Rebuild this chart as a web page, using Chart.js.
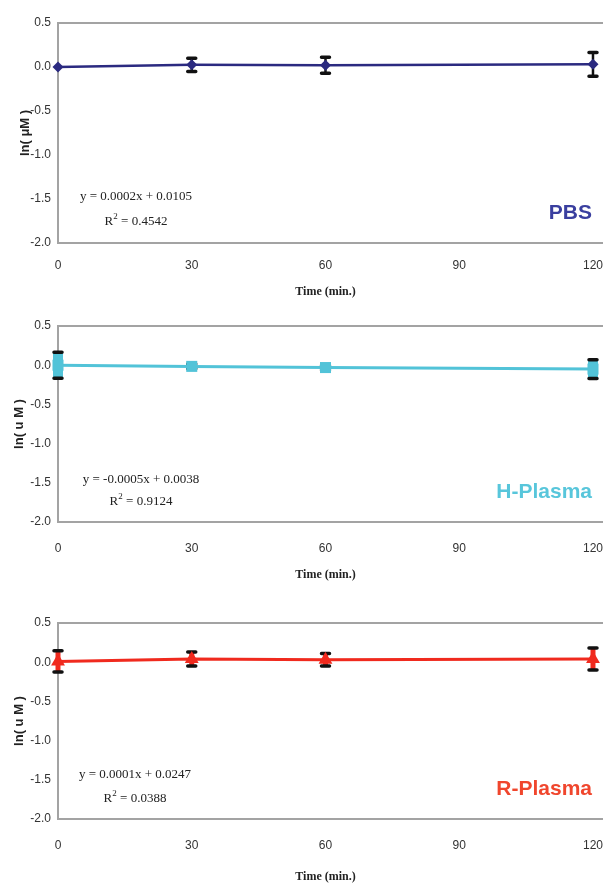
<!DOCTYPE html>
<html>
<head>
<meta charset="utf-8">
<script src="https://cdn.jsdelivr.net/npm/chart.js@4"></script>
<style>
  body { margin: 0; background: #fff; }
  .panel { position: absolute; left: 0; width: 603px; }
</style>
</head>
<body>
<div class="panel" style="top:0px"><canvas id="pbsChart" width="603" height="300"></canvas></div>
<div class="panel" style="top:300px"><canvas id="hPlasmaChart" width="603" height="290"></canvas></div>
<div class="panel" style="top:590px"><canvas id="rPlasmaChart" width="603" height="294"></canvas></div>
<script>
// data
const timePoints = [0, 30, 60, 120];
const xTicks = [0, 30, 60, 90, 120];
const yTicks = [-2.0, -1.5, -1.0, -0.5, 0.0, 0.5];

const pbsValues = [0.0, 0.025, 0.02, 0.03];
const pbsErrors = [0.0, 0.075, 0.09, 0.135];
const hPlasmaValues = [0.0, -0.015, -0.03, -0.05];
const hPlasmaErrors = [0.165, 0.03, 0.03, 0.12];
const rPlasmaValues = [0.01, 0.04, 0.03, 0.04];
const rPlasmaErrors = [0.135, 0.09, 0.08, 0.14];

const pbsFit = ['y = 0.0002x + 0.0105', ' = 0.4542'];
const hPlasmaFit = ['y = -0.0005x + 0.0038', ' = 0.9124'];
const rPlasmaFit = ['y = 0.0001x + 0.0247', ' = 0.0388'];

const axisGray = '#a3a3a3';

// the frame lines run on past the last tick to the edge of the picture
const frameExtendPlugin = {
    id: 'frameExtend',
    beforeDatasetsDraw(chart) {
        const { top, bottom, right } = chart.chartArea;
        const ctx = chart.ctx;
        ctx.save();
        ctx.strokeStyle = axisGray;
        ctx.lineWidth = 2;
        ctx.beginPath();
        ctx.moveTo(right - 1, top); ctx.lineTo(chart.width, top);
        ctx.moveTo(right - 1, bottom); ctx.lineTo(chart.width, bottom);
        ctx.stroke();
        ctx.restore();
    }
};

// error bars drawn through the chart's own scales
const errorBarPlugin = {
    id: 'errorBars',
    beforeDatasetsDraw(chart) {
        const cfg = chart.options.plugins.errorBars;
        const xs = chart.scales.x, ys = chart.scales.y;
        const ctx = chart.ctx;
        const pts = chart.data.datasets[0].data;
        ctx.save();
        cfg.errors.forEach((err, i) => {
            if (!err) return;
            const x = xs.getPixelForValue(pts[i].x);
            const yTop = ys.getPixelForValue(pts[i].y + err);
            const yBot = ys.getPixelForValue(pts[i].y - err);
            ctx.strokeStyle = cfg.stemColor;
            ctx.lineWidth = cfg.stemWidth;
            ctx.lineCap = 'butt';
            ctx.beginPath();
            ctx.moveTo(x, yTop);
            ctx.lineTo(x, yBot);
            ctx.stroke();
            ctx.strokeStyle = '#111';
            ctx.lineWidth = 3.5;
            ctx.lineCap = 'round';
            ctx.beginPath();
            ctx.moveTo(x - 4, yTop); ctx.lineTo(x + 4, yTop);
            ctx.moveTo(x - 4, yBot); ctx.lineTo(x + 4, yBot);
            ctx.stroke();
        });
        ctx.restore();
    }
};

// equation + sample name text
const notesPlugin = {
    id: 'notes',
    afterDraw(chart) {
        const n = chart.options.plugins.notes;
        const ctx = chart.ctx;
        const b = chart.chartArea.bottom;
        ctx.save();
        ctx.fillStyle = '#222';
        ctx.textBaseline = 'middle';
        ctx.font = '13px "Liberation Serif"';
        ctx.textAlign = 'center';
        ctx.fillText(n.fit[0], n.eqX, b - n.eqDy1);
        // R² line
        const w1 = ctx.measureText('R').width;
        const w3 = ctx.measureText(n.fit[1]).width;
        ctx.font = '9px "Liberation Serif"';
        const w2 = ctx.measureText('2').width;
        const x = n.eqX - (w1 + w2 + w3) / 2;
        const y = b - n.eqDy2;
        ctx.textAlign = 'left';
        ctx.font = '13px "Liberation Serif"';
        ctx.fillText('R', x, y);
        ctx.font = '9px "Liberation Serif"';
        ctx.fillText('2', x + w1, y - 5);
        ctx.font = '13px "Liberation Serif"';
        ctx.fillText(n.fit[1], x + w1 + w2, y);
        // sample label
        ctx.font = 'bold 21px "Liberation Sans"';
        ctx.textAlign = 'right';
        ctx.fillStyle = n.labelColor;
        ctx.fillText(n.label, 592, b - 30);
        ctx.restore();
    }
};

function makePanel(id, p) {
    const ctx = document.getElementById(id).getContext('2d');
    return new Chart(ctx, {
        type: 'line',
        data: {
            datasets: [{
                data: timePoints.map((t, i) => ({ x: t, y: p.values[i] })),
                borderColor: p.color,
                backgroundColor: p.color,
                borderWidth: p.lineWidth,
                pointStyle: p.marker,
                pointRadius: p.markerSize,
                pointBorderWidth: 0,
                pointBackgroundColor: p.color,
                tension: 0,
                fill: false,
                clip: false
            }]
        },
        options: {
            responsive: false,
            devicePixelRatio: 1,
            animation: false,
            layout: { padding: { top: p.padTop, left: 0, right: 0, bottom: 0 } },
            plugins: {
                legend: { display: false },
                tooltip: { enabled: false },
                errorBars: { errors: p.errors, stemColor: p.stemColor, stemWidth: p.stemWidth },
                notes: { fit: p.fit, eqX: p.eqX, eqDy1: p.eqDy1, eqDy2: p.eqDy2, label: p.label, labelColor: p.labelColor }
            },
            scales: {
                x: {
                    type: 'linear',
                    min: 0,
                    max: 120,
                    afterBuildTicks: s => { s.ticks = xTicks.map(v => ({ value: v })); },
                    afterFit: s => { s.height = p.xAxisH; },
                    grid: {
                        display: true,
                        color: 'rgba(0,0,0,0)',
                        drawTicks: true,
                        tickLength: p.tickPad,
                        tickColor: 'rgba(0,0,0,0)'
                    },
                    border: { display: true, color: axisGray, width: 2 },
                    ticks: { padding: 0, color: '#333', font: { family: 'Liberation Sans', size: 12 }, maxRotation: 0 },
                    title: {
                        display: true,
                        text: 'Time (min.)',
                        color: '#222',
                        font: { family: 'Liberation Serif', size: 12, weight: 'bold' },
                        padding: { top: 0, bottom: p.xTitlePad }
                    }
                },
                y: {
                    min: -2,
                    max: 0.5,
                    afterBuildTicks: s => { s.ticks = yTicks.map(v => ({ value: v })); },
                    afterFit: s => { s.width = 58; },
                    grid: {
                        drawTicks: false,
                        lineWidth: 2,
                        color: c => (c.tick && c.tick.value === 0.5) ? axisGray : 'rgba(0,0,0,0)'
                    },
                    border: { display: true, color: axisGray, width: 2 },
                    ticks: {
                        padding: 7,
                        color: '#333',
                        font: { family: 'Liberation Sans', size: 12 },
                        callback: v => v.toFixed(1)
                    },
                    title: {
                        display: true,
                        text: p.yTitle,
                        color: '#222',
                        font: { family: 'Liberation Sans', size: 13, weight: 'bold' },
                        padding: { top: p.yTitlePad, bottom: 0 }
                    }
                }
            }
        },
        plugins: [frameExtendPlugin, errorBarPlugin, notesPlugin]
    });
}

makePanel('pbsChart', {
    values: pbsValues, errors: pbsErrors, fit: pbsFit,
    color: '#2b2a80', lineWidth: 2.5, marker: 'rectRot', markerSize: 5.5,
    stemColor: '#111', stemWidth: 2.5,
    label: 'PBS', labelColor: '#3a3f9f',
    padTop: 23, xAxisH: 57, tickPad: 15, xTitlePad: 1,
    yTitle: 'ln( μM )', yTitlePad: 18,
    eqX: 136, eqDy1: 46, eqDy2: 21
});

makePanel('hPlasmaChart', {
    values: hPlasmaValues, errors: hPlasmaErrors, fit: hPlasmaFit,
    color: '#52c3d8', lineWidth: 3, marker: 'rect', markerSize: 7.8,
    stemColor: '#52c3d8', stemWidth: 10,
    label: 'H-Plasma', labelColor: '#58c6db',
    padTop: 26, xAxisH: 68, tickPad: 19, xTitlePad: 8,
    yTitle: 'ln( u M )', yTitlePad: 12,
    eqX: 141, eqDy1: 42, eqDy2: 20
});

makePanel('rPlasmaChart', {
    values: rPlasmaValues, errors: rPlasmaErrors, fit: rPlasmaFit,
    color: '#f02a1e', lineWidth: 3, marker: 'triangle', markerSize: 8,
    stemColor: '#f02a1e', stemWidth: 5,
    label: 'R-Plasma', labelColor: '#f0462d',
    padTop: 33, xAxisH: 65, tickPad: 19, xTitlePad: 0,
    yTitle: 'ln( u M )', yTitlePad: 12,
    eqX: 135, eqDy1: 44, eqDy2: 20
});
</script>
</body>
</html>
